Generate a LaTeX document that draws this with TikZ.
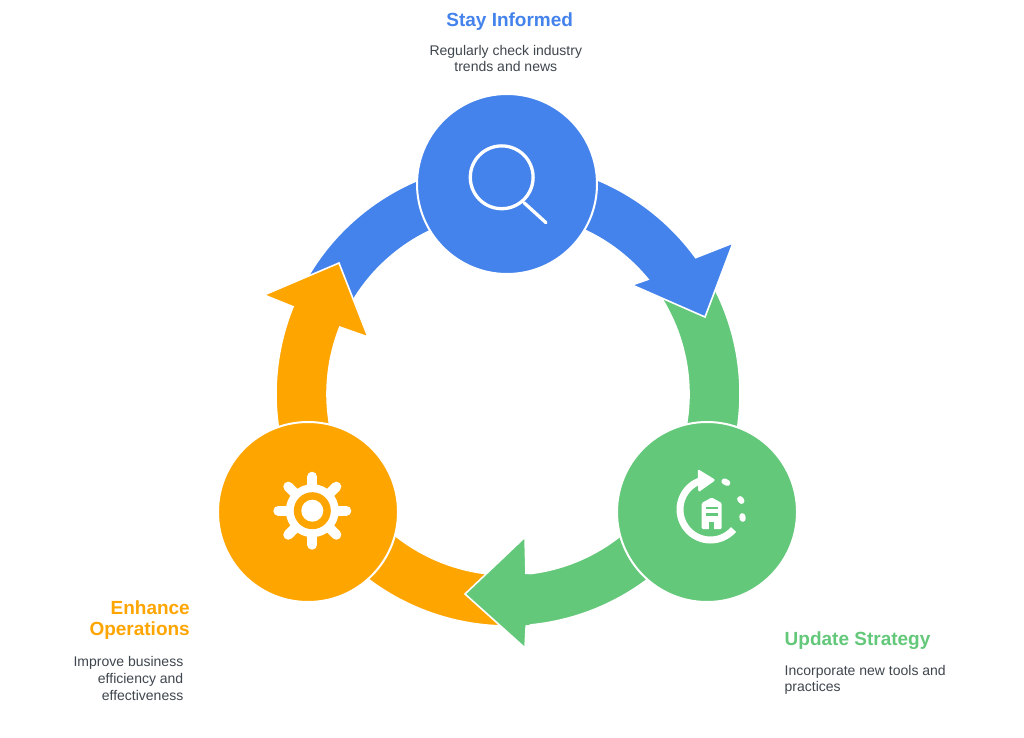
\documentclass[tikz,border=0pt]{standalone}
\usepackage{fontspec}
\setmainfont{Liberation Sans}
\definecolor{bluec}{HTML}{4483EC}
\definecolor{greenc}{HTML}{63C87A}
\definecolor{orangec}{HTML}{FFA500}
\definecolor{textc}{HTML}{3F464E}
\begin{document}
\begin{tikzpicture}[x=1pt,y=1pt,
  ringarrow/.style={draw=white, line width=1.6pt, line join=miter},
  bigcircle/.style={circle, draw=white, line width=2pt, minimum size=180pt, inner sep=0pt},
  titletext/.style={font=\fontsize{19}{22}\selectfont\bfseries, inner sep=0pt},
  bodytext/.style={font=\fontsize{14}{17}\selectfont, text=textc, inner sep=0pt},
  iconstroke/.style={draw=white, line cap=round}]
\useasboundingbox (0,0) rectangle (1024,737);
\fill[white] (0,0) rectangle (1024,737);

% ring arrows (centre of ring at (508,343))
\fill[greenc, ringarrow] ([shift={(508,343)}]32:232) arc[start angle=32, end angle=-85.5, radius=232]
  -- (525,89) -- (465,143) -- (525,200)
  -- ([shift={(508,343)}]-84.3:181) arc[start angle=-84.3, end angle=35, radius=181] -- cycle;
\fill[bluec, ringarrow] ([shift={(508,343)}]152:232) arc[start angle=152, end angle=36, radius=232]
  -- (733,494) -- (705,420) -- (632,452)
  -- ([shift={(508,343)}]39.3:181) arc[start angle=39.3, end angle=151, radius=181] -- cycle;
\fill[orangec, ringarrow] ([shift={(508,343)}]270:232) arc[start angle=270, end angle=157.9, radius=232]
  -- (264,442) -- (339,474) -- (368,400)
  -- ([shift={(508,343)}]158.3:181) arc[start angle=158.3, end angle=264, radius=181] -- cycle;
% green head again, over the start of the orange arrow
\fill[greenc] (526.2,111.7) -- (525,89) -- (465,143) -- (525,200) -- (526,162.9) -- (530,162.5) -- (530,112.5) -- cycle;
\draw[white, line width=1.6pt, line join=miter] (526.2,111.7) -- (525,89) -- (465,143) -- (525,200) -- (526,162.9);

% circles
\node[bigcircle, fill=bluec] (si) at (507,553) {};
\node[bigcircle, fill=greenc] (us) at (707,225) {};
\node[bigcircle, fill=orangec] (eo) at (308,225) {};

% magnifier icon
\begin{scope}[shift={(si.center)}]
  \draw[white, line width=3.3pt] (-5.3,6.7) circle (31.4);
  \draw[iconstroke, line width=3.3pt] (17,-18.7) -- (39,-38.7);
\end{scope}

% gear icon
\begin{scope}[shift={(eo.center)}, xshift=4.3, yshift=1.3]
  \foreach \a in {0,45,...,315} \draw[iconstroke, line width=10pt] (\a:24) -- (\a:34);
  \fill[white] (0,0) circle (26.5);
  \fill[orangec] (0,0) circle (18.5);
  \fill[white] (0,0) circle (11);
\end{scope}

% refresh + building icon
\begin{scope}[shift={(us.center)}]
  \draw[white, line width=7pt] ([shift={(3.5,2.5)}]112:30.5) arc[start angle=112, end angle=319, radius=30.5];
  \fill[white, rounded corners=1.5pt] (-9.3,43) -- (8.7,32) -- (-8.7,19.7) -- cycle;
  \draw[iconstroke, line width=6pt] (17.4,30.6) -- (20.3,29.1);
  \draw[iconstroke, line width=6pt] (33.1,12.9) -- (34.5,11.1);
  \draw[iconstroke, line width=6pt] (35.3,-4.2) -- (35.7,-6.8);
  \fill[white, rounded corners=1.2pt] (-5.3,-17) -- (-5.3,9) -- (4.7,14.5) -- (14.7,9) -- (14.7,-17) -- cycle;
  \fill[greenc] (-1.5,3) rectangle (11,5.5);
  \fill[greenc] (-1.5,-3.5) rectangle (11,-1);
  \fill[greenc] (2.3,-17.5) rectangle (7.2,-9.5);
\end{scope}

% texts
\node[titletext, text=bluec, anchor=base] (t1) at (509.7,710.3) {Stay Informed};
\node[bodytext, anchor=base] (t1a) at (505.8,681.5) {Regularly check industry};
\node[bodytext, anchor=base] (t1b) at (505.8,665.5) {trends and news};

\node[titletext, text=orangec, anchor=base east] (t3) at (190,123) {Enhance};
\node[titletext, text=orangec, anchor=base east] (t3b) at (190,101.5) {Operations};
\node[bodytext, anchor=base east] (t3c) at (183.5,71) {Improve business};
\node[bodytext, anchor=base east] (t3d) at (183.5,54) {efficiency and};
\node[bodytext, anchor=base east] (t3e) at (183.5,37) {effectiveness};

\node[titletext, text=greenc, anchor=base west] (t2) at (784.5,91.5) {Update Strategy};
\node[bodytext, anchor=base west] (t2a) at (784.5,62) {Incorporate new tools and};
\node[bodytext, anchor=base west] (t2b) at (784.5,46) {practices};
\end{tikzpicture}
\end{document}
